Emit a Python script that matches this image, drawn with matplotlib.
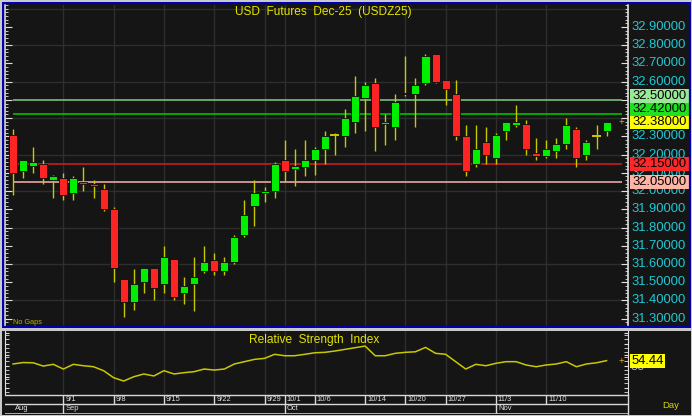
import numpy as np
import matplotlib
matplotlib.use('Agg')
import matplotlib.pyplot as plt
from matplotlib.transforms import Affine2D, blended_transform_factory
from matplotlib.patches import Rectangle

plt.rcParams['font.family'] = ['Liberation Sans', 'DejaVu Sans']

# ---- data ----
opens = [32.31, 32.11, 32.14, 32.15, 32.06, 32.07, 31.99, 32.05, 32.04, 32.01,
         31.90, 31.52, 31.39, 31.50, 31.58, 31.49, 31.63, 31.44, 31.49, 31.56,
         31.62, 31.56, 31.61, 31.76, 31.92, 31.99, 32.00, 32.17, 32.12, 32.13,
         32.17, 32.23, 32.31, 32.30, 32.38, 32.51, 32.59, 32.37, 32.35, 32.54,
         32.53, 32.59, 32.75, 32.61, 32.53, 32.30, 32.15, 32.27, 32.18, 32.33,
         32.36, 32.37, 32.21, 32.19, 32.22, 32.26, 32.34, 32.20, 32.30, 32.33]
highs = [32.34, 32.17, 32.24, 32.17, 32.09, 32.10, 32.08, 32.13, 32.06, 32.04,
         31.91, 31.52, 31.57, 31.58, 31.58, 31.70, 31.63, 31.53, 31.64, 31.70,
         31.66, 31.64, 31.76, 31.95, 32.06, 32.02, 32.16, 32.28, 32.23, 32.28,
         32.24, 32.33, 32.32, 32.45, 32.63, 32.60, 32.62, 32.42, 32.53, 32.74,
         32.62, 32.75, 32.75, 32.61, 32.61, 32.36, 32.36, 32.35, 32.32, 32.38,
         32.47, 32.39, 32.29, 32.28, 32.29, 32.40, 32.35, 32.28, 32.36, 32.38]
lows = [31.98, 32.07, 32.10, 32.04, 31.96, 31.95, 31.95, 32.00, 31.96, 31.89,
        31.50, 31.31, 31.35, 31.44, 31.40, 31.44, 31.40, 31.38, 31.34, 31.55,
        31.54, 31.54, 31.60, 31.75, 31.81, 31.94, 31.96, 32.05, 32.03, 32.08,
        32.09, 32.15, 32.20, 32.24, 32.32, 32.33, 32.22, 32.25, 32.28, 32.52,
        32.35, 32.58, 32.59, 32.47, 32.28, 32.08, 32.13, 32.15, 32.15, 32.28,
        32.35, 32.20, 32.17, 32.18, 32.18, 32.23, 32.13, 32.17, 32.23, 32.30]
closes = [32.10, 32.17, 32.16, 32.07, 32.08, 31.98, 32.07, 32.04, 32.03, 31.90,
          31.58, 31.39, 31.49, 31.58, 31.47, 31.64, 31.42, 31.48, 31.53, 31.61,
          31.56, 31.61, 31.75, 31.87, 31.99, 32.00, 32.15, 32.11, 32.14, 32.17,
          32.23, 32.30, 32.31, 32.40, 32.52, 32.58, 32.35, 32.38, 32.49, 32.53,
          32.58, 32.74, 32.60, 32.56, 32.30, 32.11, 32.23, 32.20, 32.31, 32.38,
          32.38, 32.23, 32.19, 32.23, 32.26, 32.36, 32.18, 32.27, 32.30, 32.38]
rsi = [51.4, 52.7, 52.5, 49.5, 51.1, 46.8, 51.1, 49.8, 48.9, 45.3,
       38.9, 35.9, 39.8, 42.3, 40.5, 45.3, 42.3, 43.5, 44.4, 46.8,
       45.9, 46.8, 51.4, 53.5, 55.6, 56.5, 60.2, 58.9, 58.9, 60.2,
       61.6, 62.0, 63.2, 64.7, 66.2, 67.7, 58.9, 58.9, 61.1, 62.0,
       62.5, 66.5, 61.1, 60.2, 53.5, 46.8, 51.1, 49.8, 52.0, 53.5,
       53.5, 50.5, 48.9, 50.5, 51.4, 53.5, 48.9, 51.4, 52.5, 54.44]

tick_idx = [5, 10, 15, 20, 25, 27, 30, 35, 39, 43, 48, 53]
tick_lbl = ['9/1', '9/8', '9/15', '9/22', '9/29', '10/1', '10/6', '10/14',
            '10/20', '10/27', '11/3', '11/10']
month_idx = [0, 5, 27, 48]
month_lbl = ['Aug', 'Sep', 'Oct', 'Nov']

levels = [32.50, 32.42, 32.15, 32.05]
level_line = ['#78c078', '#00c000', '#c81e1e', '#e8a8a0']
level_box = ['#98e898', '#20e020', '#ff2828', '#ffb4a4']
last_price = closes[-1]
last_rsi = rsi[-1]

# ---- layout ----
W, H = 692, 416
BG = '#151515'
GRID = '#2e2e2e'
WICK = '#c8c800'
CYAN = '#1ec8d4'
YEL = '#e4e400'

fig = plt.figure(figsize=(W / 100, H / 100), dpi=100)
fig.patch.set_facecolor(BG)
pxT = Affine2D().scale(1 / W, -1 / H).translate(0, 1) + fig.transFigure


def fbox(x0, y0, x1, y1):
    return [x0 / W, 1 - y1 / H, (x1 - x0) / W, (y1 - y0) / H]


xlim = (-0.8, 61.13)
ylim = (31.2616, 33.0205)

ax = fig.add_axes(fbox(5, 5, 628, 326))
ax.set_facecolor(BG)
ax.set_xlim(*xlim)
ax.set_ylim(*ylim)
for g in np.arange(31.4, 33.01, 0.2):
    ax.axhline(g, color=GRID, lw=1, zorder=0)
for t in tick_idx:
    ax.axvline(t, color=GRID, lw=1, zorder=0)

x = np.arange(len(opens))
for i in x:
    o, h, l, c = opens[i], highs[i], lows[i], closes[i]
    ax.vlines(i, l, h, color=WICK, lw=1, zorder=2)
    if abs(c - o) < 1e-9:
        ax.hlines(o, i - 0.45, i + 0.45, color=WICK, lw=1.4, zorder=3)
    else:
        col = '#00ee00' if c > o else '#ff2424'
        ax.bar(i, abs(c - o), bottom=min(o, c), width=0.8, color=col,
               edgecolor='#0c0c0c', linewidth=0.6, zorder=3)

for lv, lc in zip(levels, level_line):
    ax.hlines(lv, 0, 60.5, color=lc, lw=1.2, zorder=1)

ax.set_xticks([])
ax.set_yticks(np.arange(31.3, 32.95, 0.1))
ax.set_yticks(np.arange(31.26, 33.02, 0.02), minor=True)
ax.tick_params(axis='y', which='both', direction='in', left=True, right=True,
               labelleft=False, colors='#e0e0e0')
ax.tick_params(axis='y', which='major', length=5)
ax.tick_params(axis='y', which='minor', length=2.5)
for s in ['top', 'bottom']:
    ax.spines[s].set_visible(False)
for s in ['left', 'right']:
    ax.spines[s].set_color('#e0e0e0')
    ax.spines[s].set_linewidth(1.2)


def ypx(p):
    return 5 + (ylim[1] - p) / (ylim[1] - ylim[0]) * 321


# right price scale (labels fully hidden behind a marker box are skipped)
bt = blended_transform_factory(pxT, ax.transData)
marked = levels + [last_price]
for p in np.arange(31.3, 32.95, 0.1):
    if min(abs(ypx(p) - ypx(m)) for m in marked) < 8:
        continue
    ax.text(631, p, f'{p:.5f}', transform=bt, color=CYAN, fontsize=9.4,
            va='center', ha='left', clip_on=False, zorder=5)

boxes = [(v, bc) for v, bc in zip(levels, level_box)] + [(last_price, '#ffff00')]
boxes.sort(key=lambda b: b[0])
prev = None
for v, bc in boxes:
    yy = ypx(v)
    if prev is not None:
        yy = min(yy, prev - 13)
    prev = yy
    fig.patches.append(Rectangle((630, yy - 6.8), 59, 13.6, transform=pxT,
                                 facecolor=bc, edgecolor='none', zorder=6))
    fig.text(632, yy, f'{v:.5f}', transform=pxT, color='#000000',
             fontsize=9.4, va='center', ha='left', zorder=7)

ax.text(621, last_price, '+', transform=bt, color='#e0a020', fontsize=7,
        va='center', ha='center', clip_on=False)

fig.text(323, 12, 'USD  Futures  Dec-25  (USDZ25)', transform=pxT, color=YEL,
         fontsize=8.6, ha='center', va='center')
fig.text(13, 322, 'No Gaps', transform=pxT, color='#b4b400', fontsize=5.3,
         ha='left', va='center')

# ---- RSI panel ----
ax2 = fig.add_axes(fbox(5, 331, 628, 394))
ax2.set_facecolor(BG)
ax2.set_xlim(*xlim)
ax2.set_ylim(24.1, 81.4)
for t in tick_idx:
    ax2.axvline(t, color=GRID, lw=1, zorder=0)
ax2.plot(x, rsi, color=WICK, lw=1.1, zorder=3)
ax2.set_xticks([])
ax2.set_yticks(np.arange(30, 81, 10))
ax2.set_yticks(np.arange(26, 81, 4), minor=True)
ax2.tick_params(axis='y', which='both', direction='in', left=True, right=True,
                labelleft=False, colors='#e0e0e0', length=3)
for s in ['top', 'bottom']:
    ax2.spines[s].set_visible(False)
for s in ['left', 'right']:
    ax2.spines[s].set_color('#e0e0e0')
ax2.text(0.497, 0.86, 'Relative  Strength  Index', transform=ax2.transAxes,
         color=YEL, fontsize=8.6, ha='center', va='center')

bt2 = blended_transform_factory(pxT, ax2.transData)
ax2.text(631, 48.6, '50', transform=bt2, color='#b0b0b0', fontsize=9.4,
         va='center', ha='left', clip_on=False)
ry = 331 + (81.4 - last_rsi) / (81.4 - 24.1) * 63
fig.patches.append(Rectangle((630, ry - 7), 35, 14, transform=pxT,
                             facecolor='#ffff00', edgecolor='none', zorder=6))
fig.text(632, ry, f'{last_rsi:.2f}', transform=pxT, color='#000000',
         fontsize=9.4, va='center', ha='left', zorder=7)
ax2.text(621, last_rsi, '+', transform=bt2, color='#e0a020', fontsize=7,
         va='center', ha='center', clip_on=False)

# ---- date axis ----
ax3 = fig.add_axes(fbox(5, 394, 628, 414))
ax3.set_facecolor(BG)
ax3.set_xlim(*xlim)
ax3.set_ylim(20, 0)
ax3.axis('off')
ax3.axhline(0.5, color='#d8d8d8', lw=1)
ax3.axhline(9.5, color='#d8d8d8', lw=1)
ax3.axhline(19.6, color='#c8c8c8', lw=1.2)
for t, lb in zip(tick_idx, tick_lbl):
    ax3.vlines(t, 0.5, 9.5, color='#d8d8d8', lw=1)
    ax3.text(t + 0.2, 5.5, lb, color='#e0e0e0', fontsize=5.4,
             ha='left', va='center')
for m, lb in zip(month_idx, month_lbl):
    if m > 0:
        ax3.vlines(m, 9.5, 19.6, color='#d8d8d8', lw=1)
    ax3.text(m + 0.2, 15, lb, color='#e0e0e0', fontsize=5.4,
             ha='left', va='center')
fig.lines.append(plt.Line2D([627.5, 627.5], [394, 414], transform=pxT,
                            color='#d8d8d8', lw=1))
fig.text(671, 405, 'Day', transform=pxT, color='#d8d800', fontsize=6.8,
         ha='center', va='center')

# ---- frames ----
fig.patches.append(Rectangle((3, 3), 687, 324, transform=pxT, fill=False,
                             edgecolor='#0000b0', lw=1.6, zorder=8))
fig.patches.append(Rectangle((0, 328), W, 2.5, transform=pxT,
                             facecolor='#c8c8c8', edgecolor='none', zorder=8))
fig.patches.append(Rectangle((0.5, 0.5), W - 1, H - 1, transform=pxT,
                             fill=False, edgecolor='#d0d0d0', lw=1.4, zorder=9))

fig.savefig('out.png', dpi=100, facecolor=fig.get_facecolor())
